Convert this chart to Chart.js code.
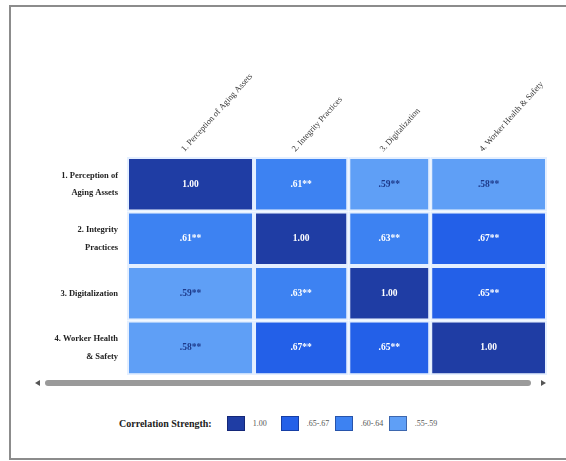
<!DOCTYPE html>
<html>
<head>
<meta charset="utf-8">
<script src="https://cdn.jsdelivr.net/npm/chart.js@4/dist/chart.umd.min.js"></script>
<style>
  html, body { margin: 0; padding: 0; background: #fff; }
  body { width: 566px; height: 461px; position: relative; overflow: hidden; font-family: "Liberation Serif", "DejaVu Serif", serif; }
  #frame { position: absolute; left: 9px; top: 5px; width: 600px; height: 455px; border: 2px solid #8c8c8c; border-right: none; box-sizing: border-box; }
  #chart { position: absolute; left: 0; top: 0; }
  #scroll { position: absolute; left: 33px; top: 379px; width: 515px; height: 8px; }
  #scroll .track { position: absolute; left: 12px; top: 1px; width: 486px; height: 6px; border-radius: 3px; background: #9a9a9a; }
  #scroll .arrow { position: absolute; top: 1px; width: 0; height: 0; border-top: 3px solid transparent; border-bottom: 3px solid transparent; }
  #scroll .left { left: 2px; border-right: 5px solid #555; }
  #scroll .right { right: 2px; border-left: 5px solid #555; }
  #legend { position: absolute; left: 119px; top: 414px; height: 18px; display: flex; align-items: center; }
  #legend .title { font-weight: bold; font-size: 10px; color: #222; margin-right: 15px; }
  #legend .item { display: flex; align-items: center; margin-right: 12px; }
  #legend .sw { width: 18px; height: 15px; box-sizing: border-box; border: 1px solid rgba(0,0,40,0.35); margin-right: 8px; }
  #legend .lbl { font-size: 8px; color: #555; width: 16px; white-space: nowrap; }
</style>
</head>
<body>
<div id="frame"></div>
<canvas id="chart" width="566" height="402"></canvas>
<div id="scroll"><div class="arrow left"></div><div class="track"></div><div class="arrow right"></div></div>
<div id="legend"></div>
<script>
// Variables of the correlation matrix
const rowLabels = [
  ['1. Perception of', 'Aging Assets'],
  ['2. Integrity', 'Practices'],
  ['3. Digitalization'],
  ['4. Worker Health', '& Safety']
];
const columnLabels = [
  '1. Perception of Aging Assets',
  '2. Integrity Practices',
  '3. Digitalization',
  '4. Worker Health & Safety'
];
// Pearson correlations (** p < .01 for every off-diagonal pair)
const correlations = [
  [1.00, 0.61, 0.59, 0.58],
  [0.61, 1.00, 0.63, 0.67],
  [0.59, 0.63, 1.00, 0.65],
  [0.58, 0.67, 0.65, 1.00]
];
const legendBands = ['1.00', '.65-.67', '.60-.64', '.55-.59'];

// Table layout: column widths in pixels (wider columns for longer headers)
const columnSpans = [124, 92, 80, 114];
const bandColors = ['#1f3da4', '#2360e8', '#3d82f2', '#5f9ff6'];
const gapColor = '#e4efff';

function bandIndex(v) {
  if (v >= 0.995) return 0;
  if (v >= 0.65) return 1;
  if (v >= 0.60) return 2;
  return 3;
}
function cellText(v) {
  if (v >= 0.995) return v.toFixed(2);
  return v.toFixed(2).replace(/^0/, '') + '**';
}

const totalSpan = columnSpans.reduce((a, b) => a + b, 0);
const columnCenters = columnSpans.map((w, i) =>
  columnSpans.slice(0, i).reduce((a, b) => a + b, 0) + w / 2);

const datasets = columnLabels.map((name, c) => ({
  label: name,
  data: rowLabels.map(() => columnSpans[c]),
  backgroundColor: rowLabels.map((_, r) => bandColors[bandIndex(correlations[r][c])]),
  borderColor: gapColor,
  borderWidth: 2,
  borderSkipped: false,
  inflateAmount: 0,
  barPercentage: 1,
  categoryPercentage: 1
}));

// Writes each correlation in the middle of its cell
const cellLabels = {
  id: 'cellLabels',
  afterDatasetsDraw(chart) {
    const ctx = chart.ctx;
    ctx.save();
    ctx.textAlign = 'center';
    ctx.textBaseline = 'middle';
    ctx.font = 'bold 9.5px "Liberation Serif", serif';
    chart.data.datasets.forEach((ds, c) => {
      chart.getDatasetMeta(c).data.forEach((bar, r) => {
        const v = correlations[r][c];
        ctx.fillStyle = bandIndex(v) === 3 ? '#1e3a8a' : '#ffffff';
        ctx.fillText(cellText(v), (bar.x + bar.base) / 2, bar.y);
      });
    });
    ctx.restore();
  }
};

new Chart(document.getElementById('chart'), {
  type: 'bar',
  data: { labels: rowLabels, datasets },
  options: {
    indexAxis: 'y',
    responsive: false,
    animation: false,
    devicePixelRatio: 1,
    layout: { padding: { left: 0, top: 0, right: 19, bottom: 0 } },
    plugins: { legend: { display: false }, tooltip: { enabled: false } },
    scales: {
      x: {
        type: 'linear',
        position: 'top',
        stacked: true,
        min: 0,
        max: totalSpan,
        grid: { display: false, drawTicks: false },
        border: { display: false },
        afterBuildTicks: s => { s.ticks = columnCenters.map(v => ({ value: v })); },
        afterFit: s => { s.height = 157; },
        ticks: {
          autoSkip: false,
          minRotation: 48,
          maxRotation: 48,
          padding: 3,
          color: '#333',
          font: { family: '"Liberation Serif", serif', size: 8.5 },
          callback: (v, i) => columnLabels[i]
        }
      },
      y: {
        type: 'category',
        stacked: true,
        grid: { display: false, drawTicks: false },
        border: { display: false },
        afterFit: s => { s.width = 127; },
        ticks: {
          padding: 9,
          color: '#222',
          font: { family: '"Liberation Serif", serif', size: 8.5, weight: 'bold', lineHeight: 2.1 }
        }
      }
    }
  },
  plugins: [cellLabels]
});

// Legend of correlation bands
const legend = document.getElementById('legend');
const title = document.createElement('span');
title.className = 'title';
title.textContent = 'Correlation Strength:';
legend.appendChild(title);
legendBands.forEach((band, i) => {
  const item = document.createElement('span');
  item.className = 'item';
  const sw = document.createElement('span');
  sw.className = 'sw';
  sw.style.background = bandColors[i];
  const lbl = document.createElement('span');
  lbl.className = 'lbl';
  lbl.textContent = band;
  item.appendChild(sw);
  item.appendChild(lbl);
  legend.appendChild(item);
});
</script>
</body>
</html>
